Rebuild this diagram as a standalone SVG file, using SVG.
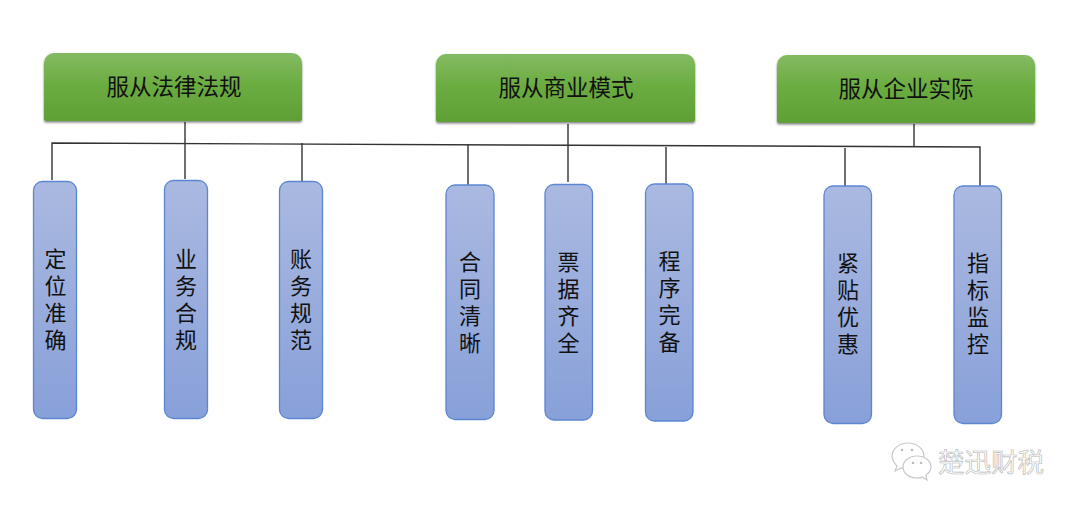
<svg xmlns="http://www.w3.org/2000/svg" width="1080" height="510" viewBox="0 0 1080 510">
<style>
text{font-family:"Liberation Sans","Noto Sans CJK SC",sans-serif;fill:#111;text-anchor:middle}
.h{font-size:22.500px}
.v{font-size:22px}
.t{fill:url(#g);filter:url(#s)}
.b{fill:url(#b);stroke:#5b86d2;stroke-width:1.3}
.c{stroke:#333;stroke-width:1.4;fill:none}
.w{font-size:26.500px;fill:#fff;stroke:#b5b5b5;stroke-width:.6;text-anchor:start}
.i{fill:#fff;stroke:#c8c8c8;stroke-width:1.2}
.d{fill:#bbb}
</style>
<defs>
<linearGradient id="g" x1="0" y1="0" x2="0" y2="1"><stop offset="0" stop-color="#83bb62"/><stop offset=".45" stop-color="#6cad42"/><stop offset="1" stop-color="#5f9f35"/></linearGradient>
<linearGradient id="b" x1="0" y1="0" x2="0" y2="1"><stop offset="0" stop-color="#aab9e0"/><stop offset="1" stop-color="#88a0d9"/></linearGradient>
<filter id="s" x="-5%" y="-10%" width="110%" height="125%"><feDropShadow dx="0" dy="1.500" stdDeviation="1" flood-color="#000" flood-opacity=".5"/></filter>
</defs>
<g id="connectors" class="c">
<path d="M52 180V143L980 147V186"/>
<path d="M185 122V179M302 143V181M468 145V185M568 124V182M666 147V184M845 148V186M914 124V147"/>
</g>
<g id="n1"><path class="t" d="M54 53H292a10 10 0 0 1 10 10V119a2 2 0 0 1-2 2H46a2 2 0 0 1-2-2V63a10 10 0 0 1 10-10z"/><text class="h" x="174" y="95">服从法律法规</text></g>
<g id="n2"><path class="t" d="M446 54H685a10 10 0 0 1 10 10V120a2 2 0 0 1-2 2H438a2 2 0 0 1-2-2V64a10 10 0 0 1 10-10z"/><text class="h" x="566" y="96">服从商业模式</text></g>
<g id="n3"><path class="t" d="M787 55H1025a10 10 0 0 1 10 10V121a2 2 0 0 1-2 2H779a2 2 0 0 1-2-2V65a10 10 0 0 1 10-10z"/><text class="h" x="906" y="97">服从企业实际</text></g>
<g id="a1"><rect class="b" x="33.500" y="181.500" width="43" height="237" rx="9"/><text class="v" x="55.500" y="267">定</text><text class="v" x="55.500" y="294">位</text><text class="v" x="55.500" y="321">准</text><text class="v" x="55.500" y="348">确</text></g>
<g id="a2"><rect class="b" x="164.500" y="180.500" width="43" height="238" rx="9"/><text class="v" x="186" y="267">业</text><text class="v" x="186" y="294">务</text><text class="v" x="186" y="321">合</text><text class="v" x="186" y="348">规</text></g>
<g id="a3"><rect class="b" x="279.500" y="181.500" width="43" height="237" rx="9"/><text class="v" x="301" y="267">账</text><text class="v" x="301" y="294">务</text><text class="v" x="301" y="321">规</text><text class="v" x="301" y="348">范</text></g>
<g id="a4"><rect class="b" x="446" y="185" width="48" height="234.500" rx="9"/><text class="v" x="470" y="270">合</text><text class="v" x="470" y="297">同</text><text class="v" x="470" y="324">清</text><text class="v" x="470" y="351">晰</text></g>
<g id="a5"><rect class="b" x="545" y="184.500" width="47.500" height="235.500" rx="9"/><text class="v" x="568.500" y="270">票</text><text class="v" x="568.500" y="297">据</text><text class="v" x="568.500" y="324">齐</text><text class="v" x="568.500" y="351">全</text></g>
<g id="a6"><rect class="b" x="645.500" y="184" width="47.500" height="237" rx="9"/><text class="v" x="669.500" y="269">程</text><text class="v" x="669.500" y="296">序</text><text class="v" x="669.500" y="323">完</text><text class="v" x="669.500" y="350">备</text></g>
<g id="a7"><rect class="b" x="824" y="186" width="47.500" height="237.500" rx="9"/><text class="v" x="848" y="271">紧</text><text class="v" x="848" y="298">贴</text><text class="v" x="848" y="325">优</text><text class="v" x="848" y="352">惠</text></g>
<g id="a8"><rect class="b" x="954" y="186" width="47.500" height="237.500" rx="9"/><text class="v" x="978" y="271">指</text><text class="v" x="978" y="298">标</text><text class="v" x="978" y="325">监</text><text class="v" x="978" y="352">控</text></g>
<g id="watermark">
<path class="i" d="M908 443c-9 0-16 6-16 13 0 4 2 7 5 10l-2 5 6-3c2 1 4 1 7 1 9 0 16-6 16-13s-7-13-16-13z"/>
<path class="i" d="M917 456c-8 0-14 5-14 11s6 11 14 11c2 0 4 0 5-1l5 3-1-5c3-2 5-5 5-8 0-6-6-11-14-11z"/>
<circle class="d" cx="902" cy="450" r="1.300"/><circle class="d" cx="912" cy="450" r="1.300"/><circle class="d" cx="913" cy="463" r="1.200"/><circle class="d" cx="921" cy="463" r="1.200"/>
<text class="w" x="938" y="472">楚迅财税</text>
</g>
</svg>
